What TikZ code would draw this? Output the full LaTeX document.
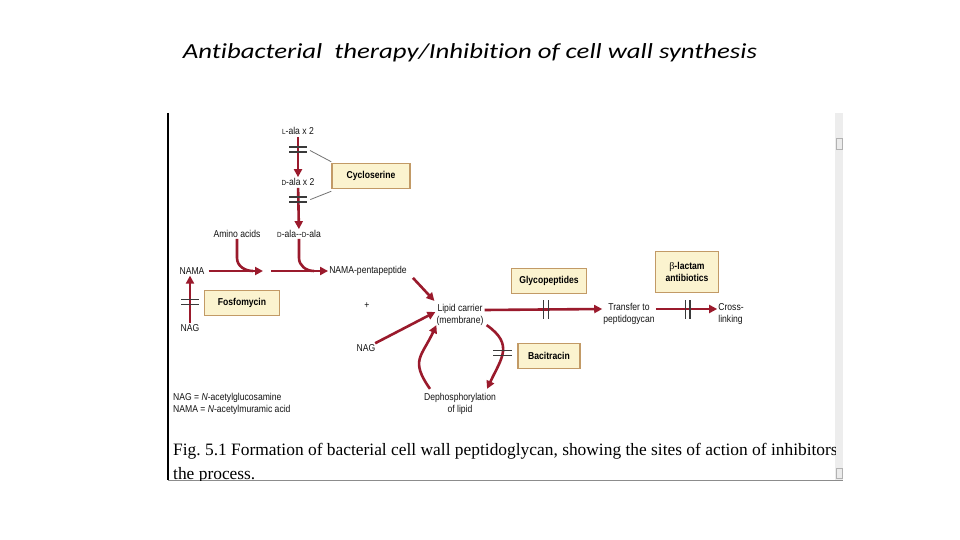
\documentclass[tikz,border=0pt]{standalone}
\usepackage{fontspec}
\setmainfont{Liberation Sans}
\newfontfamily\titlefont[FakeStretch=1.245,Ligatures=NoCommon]{Carlito}
\newfontfamily\capfont{Liberation Serif}
\newfontfamily\labfont[FakeStretch=0.86]{Liberation Sans}
\usetikzlibrary{arrows.meta,positioning,calc}
\usepackage{xcolor}
\definecolor{arrowred}{HTML}{9A1A2C}
\definecolor{boxfill}{HTML}{FBF3CF}
\definecolor{boxdraw}{HTML}{C29A66}
\definecolor{barc}{HTML}{3A3A3A}
\definecolor{scroll}{HTML}{EDEDED}
\newcommand\smc[1]{{\fontsize{7.4}{9}\selectfont #1}}
\newcommand\hbars[2]{\draw[bar] ([xshift=-#2/2,yshift=2.4pt]#1) -- ++(#2,0) ([xshift=-#2/2,yshift=-2.4pt]#1) -- ++(#2,0);}
\newcommand\vbars[2]{\draw[bar] ([xshift=-2.4pt,yshift=-#2/2]#1) -- ++(0,#2) ([xshift=2.4pt,yshift=-#2/2]#1) -- ++(0,#2);}

\begin{document}
\frenchspacing
\begin{tikzpicture}[
      x=1pt,y=-1pt,
      font=\labfont\fontsize{10}{12.5}\selectfont,
      lab/.style={inner sep=1pt,text=black!92,align=center},
      drug/.style={draw=boxdraw,line width=1.5pt,fill=boxfill,font=\labfont\bfseries\fontsize{10}{12}\selectfont,minimum height=25pt,inner sep=2pt,align=center},
      arr/.style={-{Triangle[length=8pt,width=8pt]},line width=2.6pt,arrowred},
      hook/.style={line width=2.6pt,arrowred},
      bar/.style={line width=1.3pt,barc},
      link/.style={line width=0.8pt,black!55}]

    \fill[white] (0,0) rectangle (960,540);
    \useasboundingbox (0,0) rectangle (960,540);

    \node[font=\titlefont\itshape\fontsize{21.5}{25}\selectfont] (title) at (470,53) {Antibacterial\ \ therapy/Inhibition of cell wall synthesis};

    % frame and scroll bar
    \fill[scroll] (835,113) rectangle (843,480);
    \draw[black!30,fill=black!8] (836,138) rectangle (842,149);
    \draw[black!30,fill=black!8] (836,468) rectangle (842,478);
    \draw[line width=1.4pt] (168,113) -- (168,480);
    \draw[black!45] (168,480) -- (843,480);

    % alanine branch
    \node[lab] (lala) at (298,131) {\smc{L}-ala x 2};
    \node[lab] (dala) at (298,182) {\smc{D}-ala x 2};
    \node[lab] (amino) at (237,234) {Amino acids};
    \node[lab] (dd) at (299,234) {\smc{D}-ala--\smc{D}-ala};
    \node[drug,minimum width=78pt] (cyc) at (371,176) {Cycloserine};
    \draw[arr,shorten <=1pt] (lala) -- coordinate[pos=.33] (c1) (dala);
    \draw[arr,shorten <=1pt] (dala) -- coordinate[pos=.3] (c2) (dd);
    \hbars{c1}{18pt}
    \hbars{c2}{18pt}
    \draw[link] ([xshift=12pt,yshift=-1pt]c1) -- ([yshift=1pt]cyc.north west);
    \draw[link] ([xshift=12pt]c2) -- ([yshift=-2pt]cyc.south west);

    % NAMA line
    \node[lab] (nama) at (192,271) {NAMA};
    \node[lab] (namap) at (368,271) {NAMA-pentapeptide};
    \coordinate (gap) at (267,271);
    \coordinate (j1) at (253,271);
    \coordinate (j2) at (314,271);
    \draw[arr,shorten <=3pt] (nama) -- ([xshift=-4pt]gap);
    \draw[arr] ([xshift=4pt]gap) -- (namap);
    \draw[hook] (amino) -- ([yshift=13pt]amino.south |- j1) to[out=-90,in=180] (j1);
    \draw[hook] (dd) -- ([yshift=13pt]dd.south |- j2) to[out=-90,in=180] (j2);

    % fosfomycin
    \node[lab] (nag1) at (190,328) {NAG};
    \node[drug,minimum width=75pt] (fos) at (242,303) {Fosfomycin};
    \draw[arr] (nag1) -- coordinate[pos=.45] (c7) (nag1 |- nama.south);
    \hbars{c7}{18pt}

    % lipid cycle
    \node[lab] (plus) at (367,306) {+};
    \node[lab] (lipid) at (460,315) {Lipid carrier\\(membrane)};
    \node[lab] (nag2) at (366,348) {NAG};
    \node[lab] (deph) at (460,404) {Dephosphorylation\\of lipid};
    \node[drug,minimum width=62pt] (baci) at (549,356) {Bacitracin};
    \draw[arr] ([xshift=5pt,yshift=-1pt]namap.south east) -- ([xshift=-1pt,yshift=2pt]lipid.north west);
    \draw[arr] (nag2) -- ([yshift=3pt]lipid.west);
    \draw[arr] ([xshift=-30pt,yshift=3pt]deph.north) to[out=125,in=-115,looseness=1.4] ([xshift=1pt,yshift=2pt]lipid.south west);
    \draw[arr] ([xshift=2pt,yshift=2pt]lipid.south east) to[out=-35,in=65,looseness=1.35] coordinate[pos=.5] (c5) ([xshift=-10pt,yshift=3pt]deph.north east);
    \hbars{c5}{19pt}

    % transfer and cross-linking
    \node[drug,minimum width=75pt] (glyco) at (549,281) {Glycopeptides};
    \node[lab] (trans) at (629,314) {Transfer to\\peptidogycan};
    \node[drug,minimum width=63pt,minimum height=41pt] (blact) at (687,272) {{\capfont\mdseries β}-lactam\\antibiotics};
    \node[lab,align=left] (cross) at (731,314) {Cross-\\linking};
    \draw[arr] ([yshift=5pt]lipid.east) -- coordinate[pos=.52] (c6) ([yshift=5pt]trans.west);
    \draw[arr] ([yshift=5pt]trans.east) -- coordinate[pos=.52] (c8) ([yshift=5pt]cross.west);
    \vbars{c6}{19pt}
    \vbars{c8}{19pt}

    % legend
    \node[lab,anchor=west,align=left] (legend) at (172,404) {NAG = \textit{N}-acetylglucosamine\\NAMA = \textit{N}-acetylmuramic acid};

    % caption, cut by the frame
    \begin{scope}
      \clip (168,113) rectangle (835,480);
      \node[anchor=north west,inner sep=0pt,align=left,font=\capfont\fontsize{17.4}{24}\selectfont] (caption) at (173,443)
        {Fig. 5.1 Formation of bacterial cell wall peptidoglycan, showing the sites of action of inhibitors of\\the process.};
    \end{scope}
  \end{tikzpicture}
\end{document}
